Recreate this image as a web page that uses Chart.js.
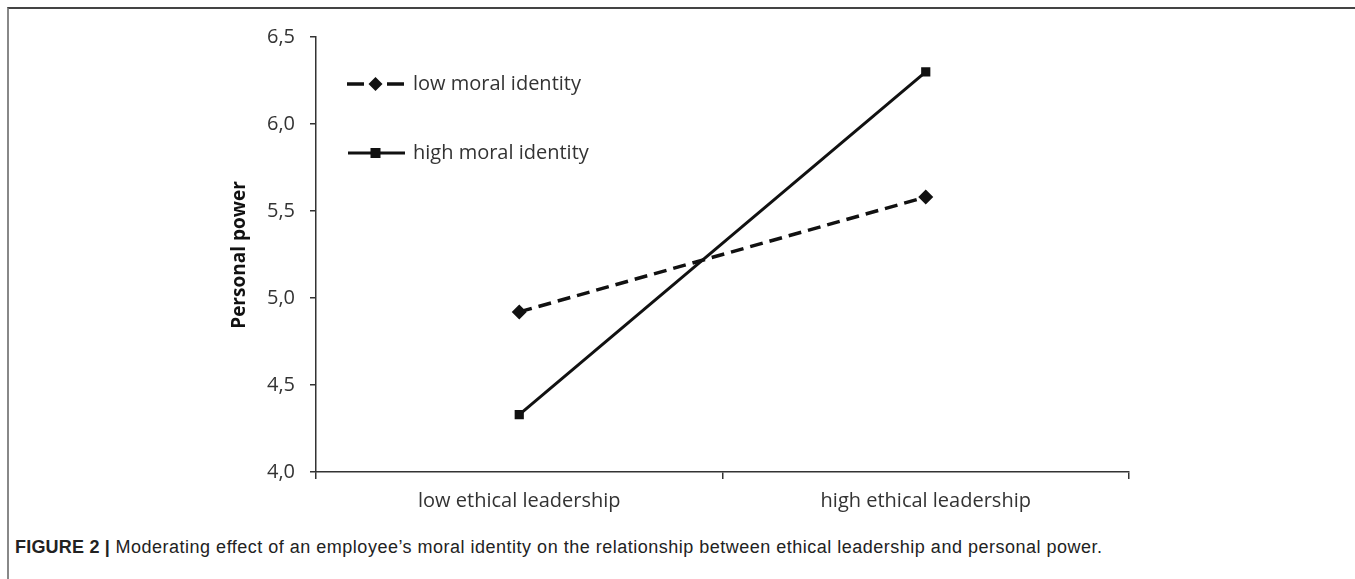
<!DOCTYPE html>
<html>
<head>
<meta charset="utf-8">
<script src="https://cdn.jsdelivr.net/npm/chart.js@4"></script>
<style>
  html, body { margin: 0; padding: 0; background: #fff; }
  #fig { position: relative; width: 1355px; height: 579px; overflow: hidden; }
  #frame { position: absolute; left: 7px; top: 7px; width: 1348px; height: 572px;
           border-left: 2px solid #888; border-top: 2px solid #444; box-sizing: border-box; }
  #wrap { position: absolute; left: 0; top: 0; width: 1355px; height: 520px; }
  #cap { position: absolute; left: 15px; top: 537px; font-family: "Liberation Sans", Arial, sans-serif;
         font-size: 18px; letter-spacing: 0.5px; color: #222; white-space: nowrap; }
  #cap b { font-weight: bold; letter-spacing: 0.2px; }
</style>
</head>
<body>
<div id="fig">
  <div id="frame"></div>
  <div id="wrap"><canvas id="ch"></canvas></div>
  <div id="cap"><b>FIGURE 2 |</b> Moderating effect of an employee’s moral identity on the relationship between ethical leadership and personal power.</div>
</div>
<script>
// interaction plot: personal power by ethical leadership, split by moral identity
const categories = ['low ethical leadership', 'high ethical leadership'];
const lowMoral = [4.92, 5.58];
const highMoral = [4.33, 6.30];
const seriesNames = ['low moral identity', 'high moral identity'];
const yTicks = [4.0, 4.5, 5.0, 5.5, 6.0, 6.5];

const FONT = '"Open Sans", "Noto Sans", sans-serif';
const INK = '#111';

// hand-placed legend inside the plot, Excel style
const legendInPlot = {
  id: 'legendInPlot',
  afterDraw(chart) {
    const ctx = chart.ctx;
    const rows = [{ y: 84, ds: 0 }, { y: 153, ds: 1 }];
    ctx.save();
    rows.forEach(r => {
      const d = chart.data.datasets[r.ds];
      ctx.strokeStyle = INK;
      ctx.lineWidth = d.borderWidth;
      ctx.beginPath();
      if (d.borderDash) {
        ctx.moveTo(347, r.y); ctx.lineTo(364, r.y);
        ctx.moveTo(387, r.y); ctx.lineTo(404, r.y);
      } else {
        ctx.moveTo(348, r.y); ctx.lineTo(405, r.y);
      }
      ctx.stroke();
      ctx.fillStyle = INK;
      if (d.pointStyle === 'rectRot') {
        ctx.beginPath();
        ctx.moveTo(375.5, r.y - 7); ctx.lineTo(382.5, r.y);
        ctx.lineTo(375.5, r.y + 7); ctx.lineTo(368.5, r.y);
        ctx.closePath(); ctx.fill();
      } else {
        ctx.fillRect(370.5, r.y - 5, 10, 10);
      }
      ctx.font = '20px ' + FONT;
      ctx.fillStyle = '#333';
      ctx.textBaseline = 'middle';
      ctx.fillText(seriesNames[r.ds], 413, r.y);
    });
    // rotated y title
    ctx.translate(240, 255);
    ctx.rotate(-Math.PI / 2);
    ctx.font = 'bold 19px ' + FONT;
    ctx.fillStyle = INK;
    ctx.textAlign = 'center';
    ctx.textBaseline = 'middle';
    ctx.fillText('Personal power', 0, 0);
    ctx.restore();
  }
};

new Chart(document.getElementById('ch'), {
  type: 'line',
  data: {
    labels: categories,
    datasets: [
      { label: seriesNames[0], data: lowMoral, borderColor: INK, backgroundColor: INK,
        borderWidth: 3.5, borderDash: [13, 7], pointStyle: 'rectRot', pointRadius: 7.5,
        pointBorderWidth: 0, tension: 0 },
      { label: seriesNames[1], data: highMoral, borderColor: INK, backgroundColor: INK,
        borderWidth: 3, pointStyle: 'rect', pointRadius: 6.5,
        pointBorderWidth: 0, tension: 0 },
    ],
  },
  options: {
    responsive: true, maintainAspectRatio: false, animation: false,
    layout: { padding: { top: 37, right: 226, left: 0, bottom: 0 } },
    plugins: { legend: { display: false }, tooltip: { enabled: false } },
    scales: {
      x: {
        offset: true,
        grid: { display: true, offset: true, drawOnChartArea: false, tickLength: 7,
                color: '#333', lineWidth: 1.5 },
        border: { display: true, color: '#333', width: 1.5 },
        ticks: { color: '#333', font: { family: FONT, size: 20 }, padding: 10, maxRotation: 0 },
        afterFit(s) { s.height = 48; },
      },
      y: {
        min: 4, max: 6.5,
        afterBuildTicks(s) { s.ticks = yTicks.map(v => ({ value: v })); },
        grid: { display: true, drawOnChartArea: false, tickLength: 6, color: '#333', lineWidth: 1.5 },
        border: { display: true, color: '#333', width: 1.5 },
        ticks: { color: '#333', font: { family: FONT, size: 20 }, padding: 15,
                 callback: v => v.toFixed(1).replace('.', ',') },
        afterFit(s) { s.width = 316; },
      },
    },
  },
  plugins: [legendInPlot],
});
</script>
</body>
</html>
